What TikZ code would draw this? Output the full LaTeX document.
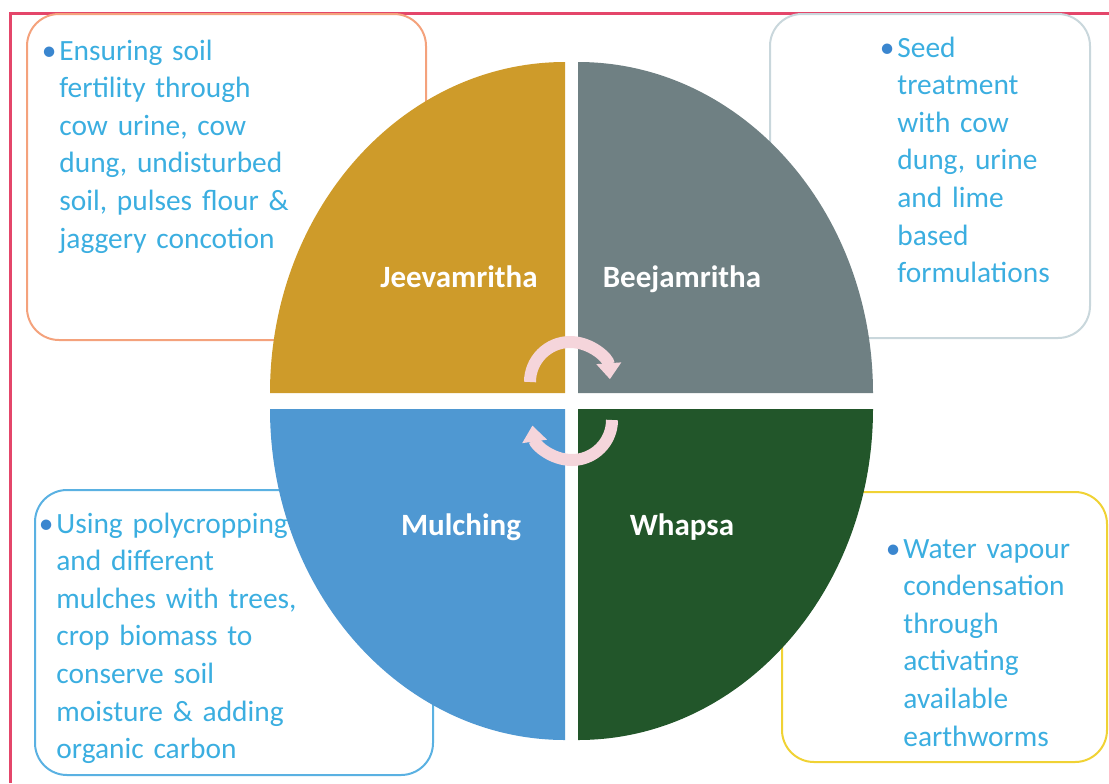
\documentclass[tikz,border=0pt]{standalone}
\usepackage{fontspec}
\setmainfont{Carlito}
\usetikzlibrary{arrows.meta}

\begin{document}
\begin{tikzpicture}[x=0.5pt,y=-0.5pt,
  box/.style={line width=1pt,rounded corners=16pt},
  note/.style={anchor=base west,inner sep=0pt,text width=220pt,align=left,text=bodytext,font=\fontsize{14.7}{18.8}\selectfont},
  quadname/.style={anchor=base,inner sep=0pt,text=white,font=\fontsize{15.5}{18}\selectfont\bfseries},
  turn/.style={cyclepink,line width=6pt,-{Triangle[width=12pt,length=8pt]}}]
  \definecolor{frame}{HTML}{E4466A}
  \definecolor{jeevabox}{HTML}{F4A27C}
  \definecolor{beejabox}{HTML}{C9D7DC}
  \definecolor{mulchbox}{HTML}{5AB1E2}
  \definecolor{whapsabox}{HTML}{F0D234}
  \definecolor{jeevafill}{HTML}{CE9B2A}
  \definecolor{beejafill}{HTML}{6F8083}
  \definecolor{mulchfill}{HTML}{4F98D2}
  \definecolor{whapsafill}{HTML}{22562A}
  \definecolor{bodytext}{HTML}{3BAEE0}
  \definecolor{bulletblue}{HTML}{3A86CF}
  \definecolor{cyclepink}{HTML}{F5D5DB}
  \useasboundingbox (0,0) rectangle (1109,783);
  \draw [frame,line width=1.5pt] (10,783) -- (10,13) -- (1109,13);
  \draw [box,jeevabox] (27,14) rectangle (426,340);
  \draw [box,beejabox] (770,14) rectangle (1090,338);
  \draw [box,mulchbox] (35,490) rectangle (433,775);
  \draw [box,whapsabox] (782,492) rectangle (1107,762);
  \node [note] (jeevanote) at (59,60) {\llap{\textcolor{bulletblue}{\textbullet}\hspace{1.5pt}}Ensuring soil\\fertility through\\cow urine, cow\\dung, undisturbed\\soil, pulses flour \&\\jaggery concotion};
  \node [note] (beejanote) at (897,57) {\llap{\textcolor{bulletblue}{\textbullet}\hspace{1.5pt}}Seed\\treatment\\with cow\\dung, urine\\and lime\\based\\formulations};
  \node [note] (mulchnote) at (56,533) {\llap{\textcolor{bulletblue}{\textbullet}\hspace{1.5pt}}Using polycropping\\and different\\mulches with trees,\\crop biomass to\\conserve soil\\moisture \& adding\\organic carbon};
  \node [note] (whapsanote) at (903,558) {\llap{\textcolor{bulletblue}{\textbullet}\hspace{1.5pt}}Water vapour\\condensation\\through\\activating\\available\\earthworms};
  \fill [jeevafill] (565,393) -- (270,393) arc [start angle=180,end angle=270,x radius=295,y radius=331] -- cycle;
  \fill [beejafill] (578,393) -- (578,62) arc [start angle=270,end angle=360,x radius=295,y radius=331] -- cycle;
  \fill [mulchfill] (565,409) -- (270,409) arc [start angle=180,end angle=90,x radius=295,y radius=331] -- cycle;
  \fill [whapsafill] (578,409) -- (873,409) arc [start angle=0,end angle=90,x radius=295,y radius=331] -- cycle;
  \node [quadname] (jeeva) at (459,287) {Jeevamritha};
  \node [quadname] (beeja) at (682,287) {Beejamritha};
  \node [quadname] (mulch) at (461,535) {Mulching};
  \node [quadname] (whapsa) at (682,535) {Whapsa};
  \draw [turn] (530,382) arc [start angle=180,end angle=356,radius=40];
  \draw [turn] (612,420) arc [start angle=0,end angle=172,radius=40];
\end{tikzpicture}
\end{document}
